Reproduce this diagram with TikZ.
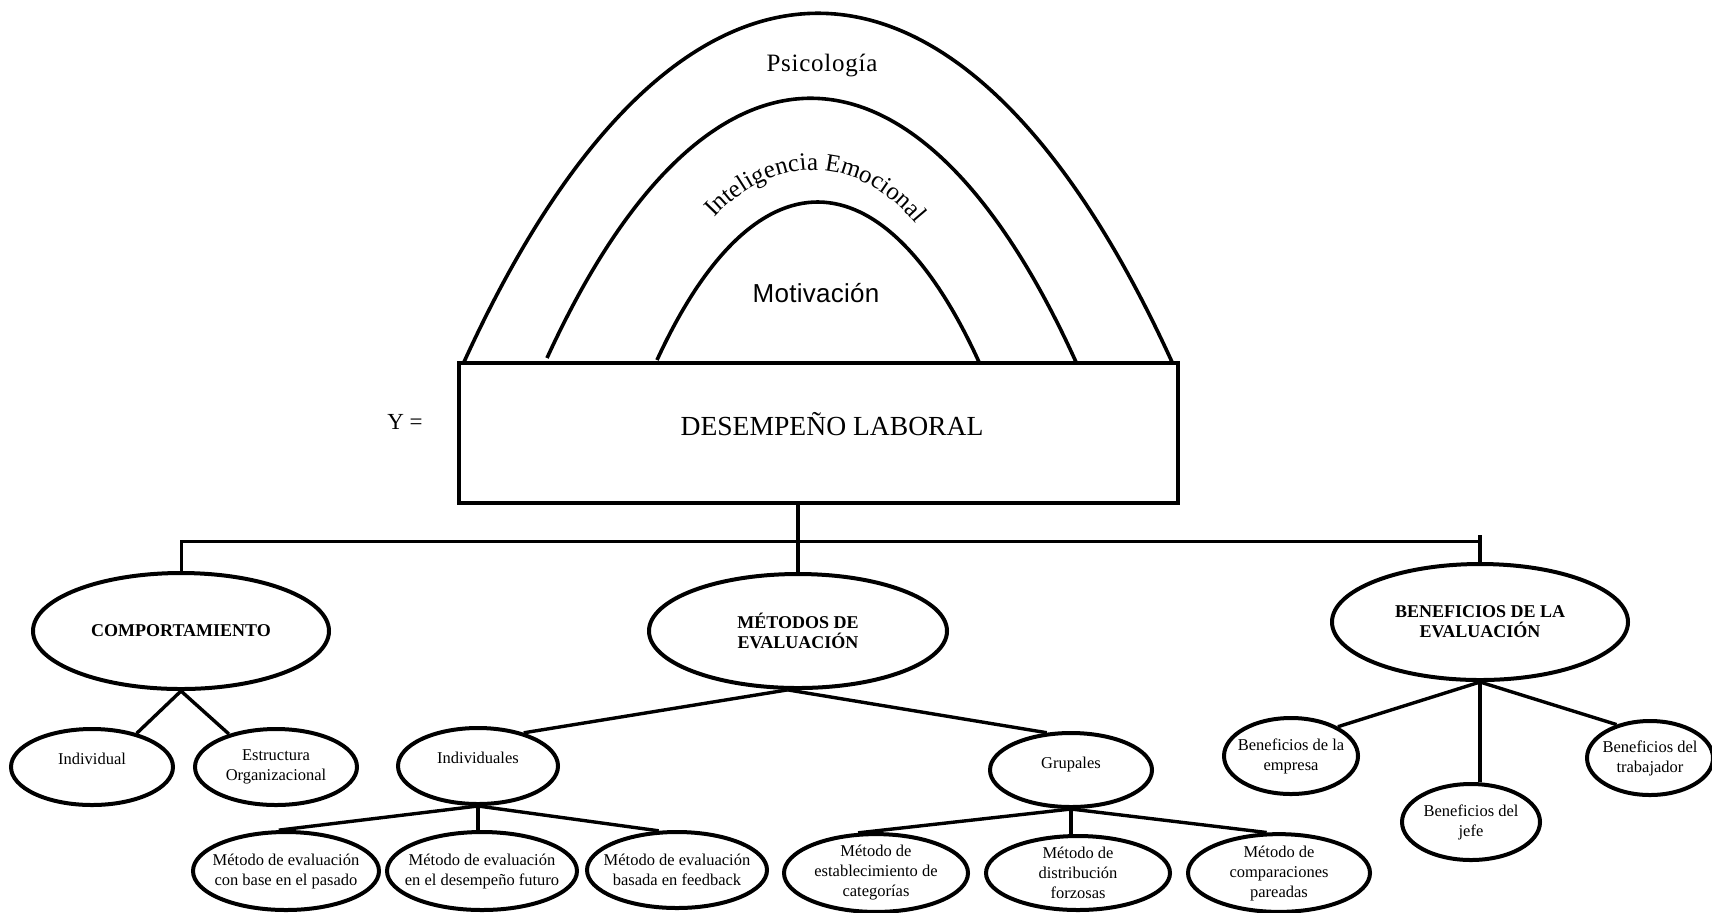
\documentclass[tikz,border=0pt]{standalone}
\usepackage{fontspec}
\setmainfont{Liberation Serif}
\newfontfamily\arialf{Liberation Sans}
\usetikzlibrary{shapes.geometric,decorations.text}
\begin{document}
\begin{tikzpicture}[x=0.5pt,y=-0.5pt,
  sz/.style 2 args={minimum width=#1pt,minimum height=#2pt},
  ell/.style={ellipse,draw,line width=2pt,inner ysep=0pt,inner xsep=-12pt,align=center,font=\fontsize{8.25}{10}\selectfont},
  head/.style={ellipse,draw,line width=2pt,inner ysep=0pt,inner xsep=-12pt,align=center,font=\bfseries\fontsize{9}{10}\selectfont},
  conn/.style={line width=1.7pt},
  busline/.style={line width=1.5pt},
  arch/.style={line width=1.8pt},
]
\useasboundingbox (0,0) rectangle (1712,912);

% central box
\node[draw,line width=1.8pt,minimum width=359.5pt,minimum height=70pt,inner sep=0pt,
      font=\fontsize{13.8}{16}\selectfont,text depth=9pt] (box) at (818.5,433) {\hspace*{13.5pt}DESEMPEÑO LABORAL};
\node[font=\fontsize{11.5}{14}\selectfont] (yeq) at (405,422) {Y =};

% arches
\draw[arch] (464,362) .. controls (676,-103) and (960,-103) .. (1172,362);
\draw[arch] (547,358) .. controls (706,11) and (917,11) .. (1076,362);
\draw[arch] (657,360) .. controls (754,149) and (882,149) .. (979,362);

\node[font=\fontsize{12.5}{14}\selectfont\addfontfeature{LetterSpace=3}] (psi) at (822,65) {Psicología};
\node[font=\arialf\fontsize{13}{15}\selectfont\addfontfeature{LetterSpace=1}] (mot) at (816,293) {Motivación};
\path[decorate,decoration={text along path,text align=center,
  text={|\fontsize{12.5}{14}\selectfont|Inteligencia Emocional}}]
  (693,245) .. controls (760,144) and (872,144) .. (935,252);

% first level
\node[head,sz={148}{58}] (comp) at (181,631) {COMPORTAMIENTO};
\node[head,sz={149}{57}] (met) at (798,631) {MÉTODOS DE\\EVALUACIÓN};
\node[head,sz={148}{58}] (ben) at (1480,622) {BENEFICIOS DE LA\\EVALUACIÓN};

% second level
\node[ell,sz={81}{38},text depth=8pt] (indiv) at (92,767) {Individual};
\node[ell,sz={81}{38}] (estr) at (276,767) {Estructura\\Organizacional};
\node[ell,sz={80}{38},text depth=8pt] (indl) at (478,766) {Individuales};
\node[ell,sz={81}{37},text depth=7pt] (grup) at (1071,770) {Grupales};
\node[ell,sz={67}{38}] (be) at (1291,756) {Beneficios de la\\empresa};
\node[ell,sz={69}{38}] (bj) at (1471,822) {Beneficios del\\jefe};
\node[ell,sz={63}{37}] (bt) at (1650,758) {Beneficios del\\trabajador};

% third level
\node[ell,sz={93}{39}] (m1) at (286,871) {Método de evaluación\\con base en el pasado};
\node[ell,sz={95}{39}] (m2) at (482,871) {Método de evaluación\\en el desempeño futuro};
\node[ell,sz={90}{38}] (m3) at (677,870) {Método de evaluación\\basada en feedback};
\node[ell,sz={92}{37}] (g1) at (876,873) {Método de\\establecimiento de\\categorías};
\node[ell,sz={92}{37}] (g2) at (1078,873) {Método de\\distribución\\forzosas};
\node[ell,sz={91}{37}] (g3) at (1279,873) {Método de\\comparaciones\\pareadas};

% bus
\coordinate (busy) at (0,541);
\coordinate (bust) at (0,535);
\draw[conn] (box.south -| met.north) -- (met.north);
\draw[busline] (comp.north) -- (comp.north |- busy) -- (ben.north |- busy);
\draw[conn] (ben.north |- bust) -- (ben.north);

% connectors
\draw[conn] (comp.south) -- (indiv.37);
\draw[conn] (comp.south) -- (estr.145);
\draw[conn] (met.260) -- (indl.36);
\draw[conn] (met.260) -- (grup.123);
\draw[conn] (indl.south) -- (m1.100);
\draw[conn] (indl.south) -- (indl.south |- m2.north);
\draw[conn] (indl.south) -- (m3.115);
\draw[conn] (grup.south) -- (g1.114);
\draw[conn] (grup.south) -- (grup.south |- g2.north);
\draw[conn] (grup.south) -- (g3.107);
\draw[conn] (ben.south) -- (be.32);
\draw[conn] (ben.south) -- (ben.south |- bj.north);
\draw[conn] (ben.south) -- (bt.135);
\end{tikzpicture}
\end{document}
